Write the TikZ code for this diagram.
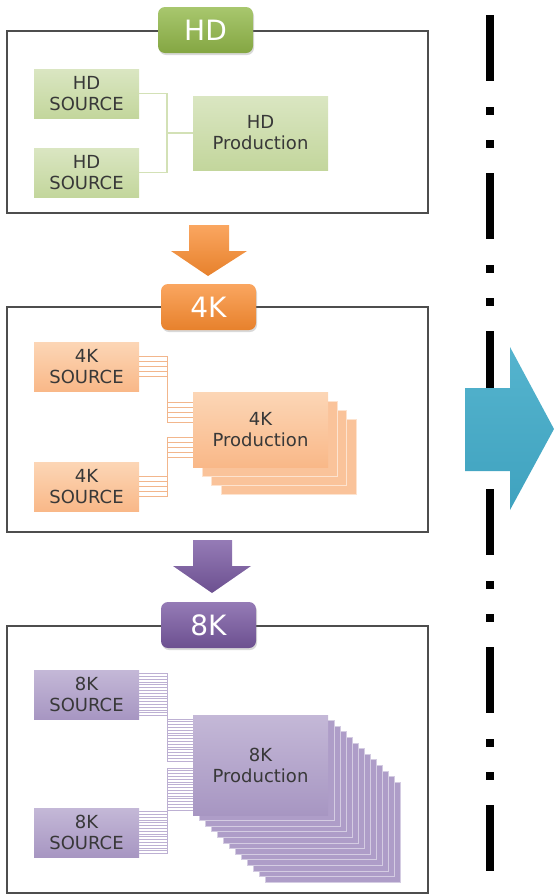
\documentclass[tikz,border=0pt]{standalone}
\usepackage{fontspec}
\setmainfont{DejaVu Sans}
\usetikzlibrary{calc,shadows}
\definecolor{PanelLine}{HTML}{4D4D4D}
\definecolor{BoxText}{HTML}{383838}
\definecolor{HDTagTop}{HTML}{A8C76E}
\definecolor{HDTagBot}{HTML}{84A642}
\definecolor{HDBoxTop}{HTML}{DAE6C2}
\definecolor{HDBoxBot}{HTML}{C3D69C}
\definecolor{HDWire}{HTML}{D3E1B6}
\definecolor{FourKTagTop}{HTML}{FAA660}
\definecolor{FourKTagBot}{HTML}{E7812C}
\definecolor{FourKBoxTop}{HTML}{FCD6B6}
\definecolor{FourKBoxBot}{HTML}{F9B888}
\definecolor{FourKCopy}{HTML}{FAC39A}
\definecolor{FourKEdge}{HTML}{FDE3CF}
\definecolor{FourKWire}{HTML}{F2B68C}
\definecolor{EightKTagTop}{HTML}{957BB6}
\definecolor{EightKTagBot}{HTML}{6C5090}
\definecolor{EightKBoxTop}{HTML}{C4B8D7}
\definecolor{EightKBoxBot}{HTML}{A796C2}
\definecolor{EightKCopy}{HTML}{AE9DC8}
\definecolor{EightKEdge}{HTML}{D4CCE2}
\definecolor{EightKWire}{HTML}{BDB0D3}
\definecolor{GoTop}{HTML}{55B4CE}
\definecolor{GoBot}{HTML}{3FA2BF}

\begin{document}
\begin{tikzpicture}[x=1pt,y=-1pt,
  panel/.style={draw=PanelLine,line width=1.4pt},
  tag/.style={rounded corners=7pt,minimum width=95pt,minimum height=46pt,inner sep=0pt,
    text=white,font=\fontsize{28}{32}\selectfont,
    drop shadow={shadow xshift=1pt,shadow yshift=-2pt,opacity=.3}},
  srcbox/.style={minimum width=105pt,minimum height=49pt,inner sep=0pt,align=center,
    text=BoxText,font=\fontsize{18}{21}\selectfont},
  prodbox/.style={minimum width=135pt,inner sep=0pt,align=center,
    text=BoxText,font=\fontsize{18}{21}\selectfont}]
\path[use as bounding box] (0,0) rectangle (554,895);
\draw[line width=8pt,dash pattern=on 66pt off 26pt on 8pt off 25pt on 8pt off 25pt] (490,15) -- (490,871);
\shade[top color=GoTop,bottom color=GoBot] (465,388) -- (510,388) -- (510,347) -- (554,429) -- (510,510) -- (510,471) -- (465,471) -- cycle;
\draw[panel] (7,31) rectangle (428,213);
\node[tag,top color=HDTagTop,bottom color=HDTagBot] (hdtag) at (205.5,30) {HD};
\node[srcbox,top color=HDBoxTop,bottom color=HDBoxBot] (hdsa) at (86.5,93.5) {HD\\SOURCE};
\node[srcbox,top color=HDBoxTop,bottom color=HDBoxBot] (hdsb) at (86.5,172.5) {HD\\SOURCE};
\node[prodbox,minimum height=74pt,top color=HDBoxTop,bottom color=HDBoxBot] (hdp) at (260.5,133) {HD\\Production};
\draw[HDWire,line width=1.5pt] (hdsa.east) -- ++(28,0) |- (hdp.west);
\draw[HDWire,line width=1.5pt] (hdsb.east) -- ++(28,0) |- (hdp.west);
\shade[top color=FourKTagTop,bottom color=FourKTagBot] (189,225) -- (229,225) -- (229,251) -- (247,251) -- (208,276) -- (171,251) -- (189,251) -- cycle;
\draw[panel] (7,307) rectangle (428,532);
\node[tag,top color=FourKTagTop,bottom color=FourKTagBot] (fktag) at (208.5,307) {4K};
\node[srcbox,top color=FourKBoxTop,bottom color=FourKBoxBot] (fksa) at (86.5,366.5) {4K\\SOURCE};
\node[srcbox,top color=FourKBoxTop,bottom color=FourKBoxBot] (fksb) at (86.5,486.5) {4K\\SOURCE};
\foreach \k in {3,2,1}
  \node[prodbox,minimum height=75pt,fill=FourKCopy,draw=FourKEdge,line width=.8pt] (fkc\k) at ({260.5+9.3*\k},{429.5+9*\k}) {};
\node[prodbox,minimum height=75pt,top color=FourKBoxTop,bottom color=FourKBoxBot] (fkp) at (260.5,429.5) {4K\\Production};
\foreach \i in {0,...,4} {
  \draw[FourKWire,line width=1pt] ($(fksa.east)+(0,{-10+5*\i})$) -- ++(28,0) |- ($(fkp.west)+(0,{-27.5+5*\i})$);
  \draw[FourKWire,line width=1pt] ($(fksb.east)+(0,{-10+5*\i})$) -- ++(28,0) |- ($(fkp.west)+(0,{7.5+5*\i})$);
}
\shade[top color=EightKTagTop,bottom color=EightKTagBot] (193,540) -- (232,540) -- (232,566) -- (251,566) -- (212,593) -- (173,566) -- (193,566) -- cycle;
\draw[panel] (7,626) rectangle (428,893);
\node[tag,top color=EightKTagTop,bottom color=EightKTagBot] (ektag) at (208.5,625) {8K};
\node[srcbox,top color=EightKBoxTop,bottom color=EightKBoxBot] (eksa) at (86.5,694.5) {8K\\SOURCE};
\node[srcbox,top color=EightKBoxTop,bottom color=EightKBoxBot] (eksb) at (86.5,832.5) {8K\\SOURCE};
\foreach \k in {12,11,...,1}
  \node[prodbox,minimum height=100pt,fill=EightKCopy,draw=EightKEdge,line width=.7pt] (ekc\k) at ({260.5+6*\k},{765+5.6*\k}) {};
\node[prodbox,minimum height=100pt,top color=EightKBoxTop,bottom color=EightKBoxBot] (ekp) at (260.5,765) {8K\\Production};
\foreach \i in {0,...,15} {
  \draw[EightKWire,line width=.7pt] ($(eksa.east)+(0,{-21+2.8*\i})$) -- ++(28,0) |- ($(ekp.west)+(0,{-46+2.8*\i})$);
  \draw[EightKWire,line width=.7pt] ($(eksb.east)+(0,{-21+2.8*\i})$) -- ++(28,0) |- ($(ekp.west)+(0,{3+2.8*\i})$);
}
\end{tikzpicture}
\end{document}
